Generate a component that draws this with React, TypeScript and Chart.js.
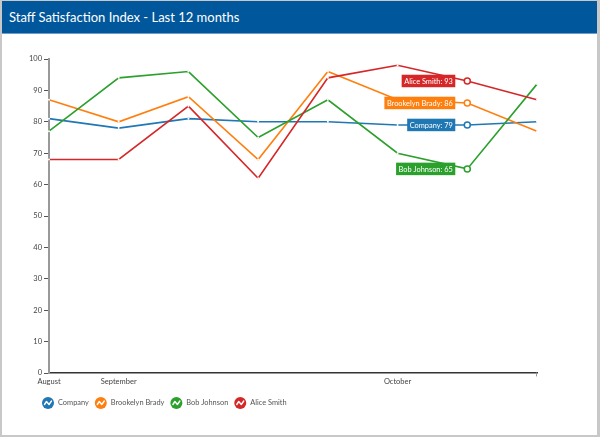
import React, { useEffect, useRef } from "react";
import { Chart, registerables } from "chart.js";

Chart.register(...registerables);

const categories = ["Aug 1", "Sep 1", "Sep 8", "Sep 15", "Sep 22", "Oct 1", "Oct 8", "Oct 15"];
const tickLabels = ["August", "September", "", "", "", "October", "", ""];
const seriesNames = ["Company", "Brookelyn Brady", "Bob Johnson", "Alice Smith"];
const seriesColors = ["#1f77b4", "#ff7f0e", "#2ca02c", "#d62728"];
const companyValues = [81, 78, 81, 80, 80, 79, 79, 80];
const brookelynValues = [87, 80, 88, 68, 96, 87, 86, 77];
const bobValues = [77, 94, 96, 75, 87, 70, 65, 92];
const aliceValues = [68, 68, 85, 62, 94, 98, 93, 87];
const highlightIndex = 6;
const yTicks = [0, 10, 20, 30, 40, 50, 60, 70, 80, 90, 100];

const FONT = "Lato, 'Noto Sans', sans-serif";

const labelPlugin = {
  id: "pointLabels",
  afterDatasetsDraw(chart: any) {
    const ctx = chart.ctx;
    const xs = chart.scales.x;
    const ys = chart.scales.y;
    chart.data.datasets.forEach((ds: any) => {
      const v = ds.data[highlightIndex];
      const x = xs.getPixelForValue(highlightIndex);
      const y = ys.getPixelForValue(v);
      const text = ds.label + ": " + v;
      ctx.save();
      ctx.font = "7.4px " + FONT;
      const w = ctx.measureText(text).width + 5;
      const h = 12.5;
      const right = x - 12;
      ctx.fillStyle = ds.borderColor;
      ctx.fillRect(right - w, y - h / 2, w, h);
      ctx.fillStyle = "#ffffff";
      ctx.textAlign = "center";
      ctx.textBaseline = "middle";
      ctx.fillText(text, right - w / 2, y + 0.5);
      ctx.beginPath();
      ctx.arc(x, y, 3, 0, Math.PI * 2);
      ctx.fillStyle = "#ffffff";
      ctx.fill();
      ctx.lineWidth = 1.5;
      ctx.strokeStyle = ds.borderColor;
      ctx.stroke();
      ctx.restore();
    });
  },
};

const legendPlugin = {
  id: "customLegend",
  afterDraw(chart: any) {
    const ctx = chart.ctx;
    ctx.save();
    ctx.font = "7.4px " + FONT;
    const cy = 369;
    let cx = 46;
    seriesNames.forEach((name, i) => {
      const r = 6;
      ctx.beginPath();
      ctx.arc(cx, cy, r, 0, Math.PI * 2);
      ctx.fillStyle = seriesColors[i];
      ctx.fill();
      ctx.beginPath();
      ctx.moveTo(cx - 3.5, cy + 1.5);
      ctx.lineTo(cx - 1.5, cy - 1.5);
      ctx.lineTo(cx + 1, cy + 1.5);
      ctx.lineTo(cx + 3.5, cy - 2);
      ctx.strokeStyle = "#ffffff";
      ctx.lineWidth = 1.4;
      ctx.lineJoin = "round";
      ctx.lineCap = "round";
      ctx.stroke();
      ctx.fillStyle = "#555555";
      ctx.textAlign = "left";
      ctx.textBaseline = "middle";
      const tx = cx + r + 4;
      ctx.fillText(name, tx, cy);
      const tw = ctx.measureText(name).width;
      cx = tx + tw + 6 + r;
    });
    const xs = chart.scales.x;
    const ys = chart.scales.y;
    ctx.strokeStyle = "#999999";
    ctx.lineWidth = 1;
    ctx.beginPath();
    ctx.moveTo(xs.right - 0.5, ys.bottom);
    ctx.lineTo(xs.right - 0.5, ys.bottom + 3);
    ctx.stroke();
    ctx.restore();
  },
};

export default function App() {
  const ref = useRef<HTMLCanvasElement>(null);
  useEffect(() => {
    if (!ref.current) return;
    const values = [companyValues, brookelynValues, bobValues, aliceValues];
    const chart = new Chart(ref.current, {
      type: "line",
      data: {
        labels: categories,
        datasets: values.map((d, i) => ({
          label: seriesNames[i],
          data: d,
          borderColor: seriesColors[i],
          backgroundColor: "#ffffff",
          borderWidth: 1.6,
          pointRadius: 1,
          pointBorderWidth: 0,
          pointBackgroundColor: "#ffffff",
          tension: 0,
          order: 3 - i,
        })),
      },
      options: {
        animation: false,
        responsive: false,
        devicePixelRatio: 1,
        layout: { padding: { top: 25, left: 0, right: 60, bottom: 0 } },
        plugins: { legend: { display: false }, tooltip: { enabled: false } },
        scales: {
          x: {
            type: "category",
            offset: false,
            grid: { display: false, drawTicks: false },
            border: { display: true, color: "#333333", width: 1.5 },
            ticks: {
              autoSkip: false,
              maxRotation: 0,
              padding: 4,
              color: "#444444",
              font: { family: FONT, size: 7.5 },
              callback: (_v: any, i: number) => tickLabels[i],
            },
            afterFit: (s: any) => {
              s.height = 62;
            },
          },
          y: {
            min: 0,
            max: 100,
            afterBuildTicks: (s: any) => {
              s.ticks = yTicks.map((v) => ({ value: v }));
            },
            grid: { drawOnChartArea: false, tickLength: 5, color: "#555555", tickWidth: 1 },
            border: { display: true, color: "#999999", width: 2 },
            ticks: {
              padding: 2,
              color: "#444444",
              font: { family: FONT, size: 7.5 },
            },
            afterFit: (s: any) => {
              s.width = 47;
            },
          },
        },
      },
      plugins: [labelPlugin, legendPlugin],
    });
    return () => chart.destroy();
  }, []);

  return (
    <div
      style={{
        position: "absolute",
        left: 0,
        top: 0,
        width: 600,
        height: 437,
        boxSizing: "border-box",
        borderTop: "1px solid #c8c8c8",
        borderLeft: "2px solid #c8c8c8",
        borderRight: "3px solid #c8c8c8",
        borderBottom: "2px solid #c8c8c8",
        background: "#ffffff",
        overflow: "hidden",
      }}
    >
      <div
        style={{
          height: 32,
          background: "#01579b",
          borderBottom: "1px solid #6f9cc8",
          color: "#ffffff",
          fontFamily: FONT,
          fontSize: 13,
          fontWeight: "normal",
          lineHeight: "33px",
          paddingLeft: 7,
          whiteSpace: "nowrap",
        }}
      >
        Staff Satisfaction Index - Last 12 months
      </div>
      <canvas ref={ref} width={595} height={401} style={{ display: "block", width: 595, height: 401 }} />
    </div>
  );
}
